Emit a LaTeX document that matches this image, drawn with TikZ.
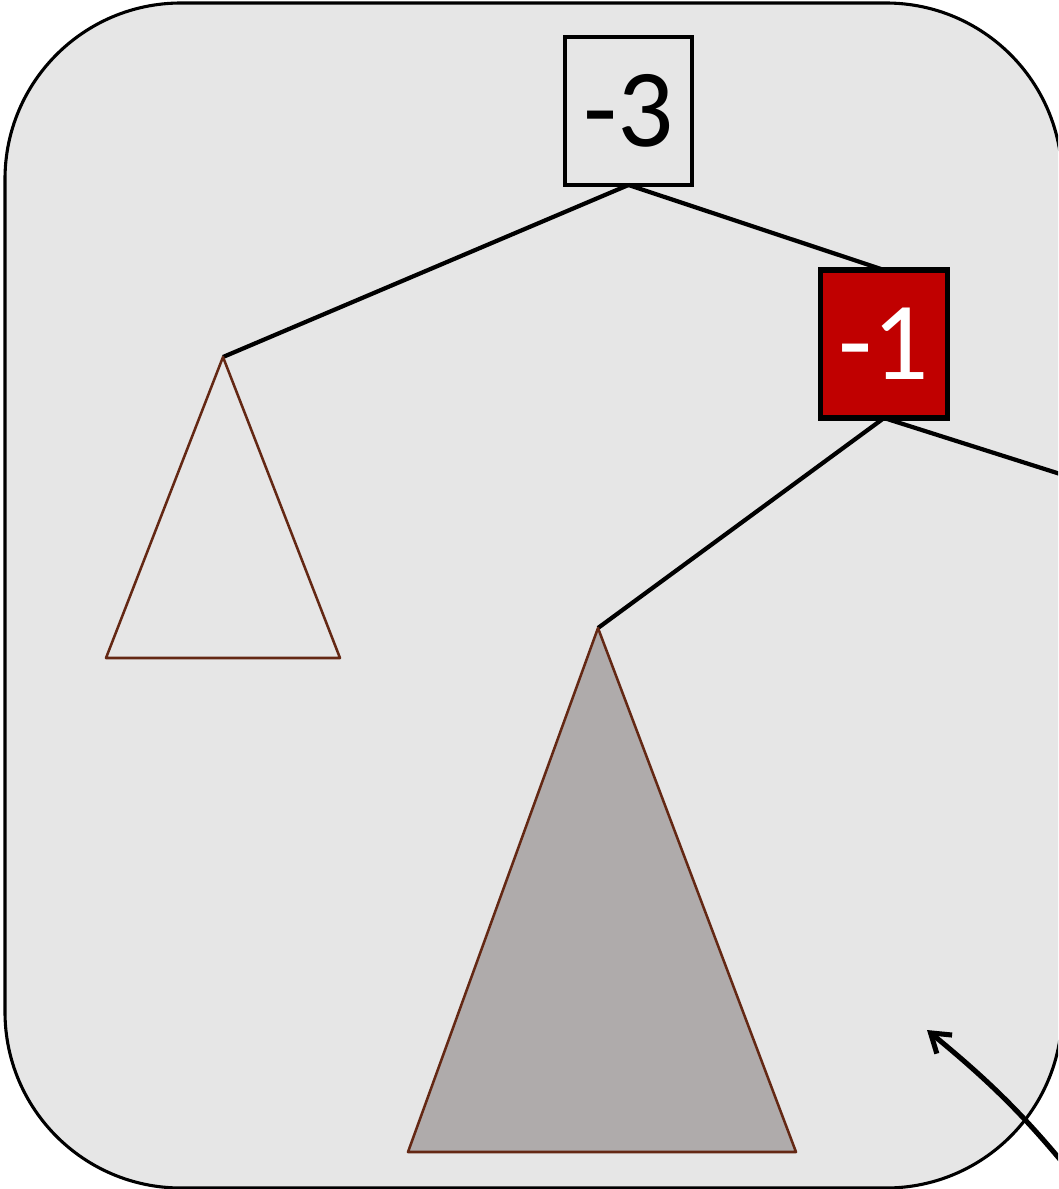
\documentclass[tikz,border=0pt]{standalone}
\usepackage{fontspec}
\setmainfont{Carlito}
\usetikzlibrary{arrows.meta}
\definecolor{panelgray}{RGB}{230,230,230}
\definecolor{keyred}{RGB}{192,0,0}
\definecolor{treeline}{RGB}{100,40,20}
\definecolor{treefill}{RGB}{175,171,171}
\begin{document}
\begin{tikzpicture}[
x=0.025cm, y=-0.025cm,
keybox/.style={
draw,
line width=3pt,
minimum width=3.175cm,
minimum height=3.7cm,
inner sep=0pt,
font=\fontsize{79}{80}\selectfont
},
redkey/.style={keybox, fill=keyred, text=white, line width=3.8pt},
link/.style={line width=3pt},
subtree/.style={draw=treeline, line width=1.8pt, line join=round}
]
\clip (0,0) rectangle (1058,1189);
% panel
\draw[fill=panelgray, line width=2.2pt, rounded corners=4.4cm] (5,3) rectangle (1062,1188);
% subtree tops
\coordinate (lefttop) at (223,357);
\coordinate (bigtop) at (598,628);
\coordinate (offright) at (1120,493);
% edges
\draw[link] (628.5,185) -- (lefttop);
\draw[link] (628.5,185) -- (884,270);
\draw[link] (884,418) -- (bigtop);
\draw[link] (884,418) -- (offright);
% subtrees
\draw[subtree] (lefttop) -- (106,658) -- (340,658) -- cycle;
\draw[subtree, fill=treefill] (bigtop) -- (408,1152) -- (796,1152) -- cycle;
% keys
\node[keybox] (root) at (628.5,111) {-3};
\node[redkey] (rkey) at (884,344) {-1};
% pointer
\coordinate (ptrfoot) at (1085,1190);
\coordinate (ptrhead) at (927,1030);
\draw[line width=3.6pt, -{Straight Barb[length=4.5mm,width=6mm]}] (ptrfoot) to[bend right=6] (ptrhead);
\end{tikzpicture}
\end{document}
